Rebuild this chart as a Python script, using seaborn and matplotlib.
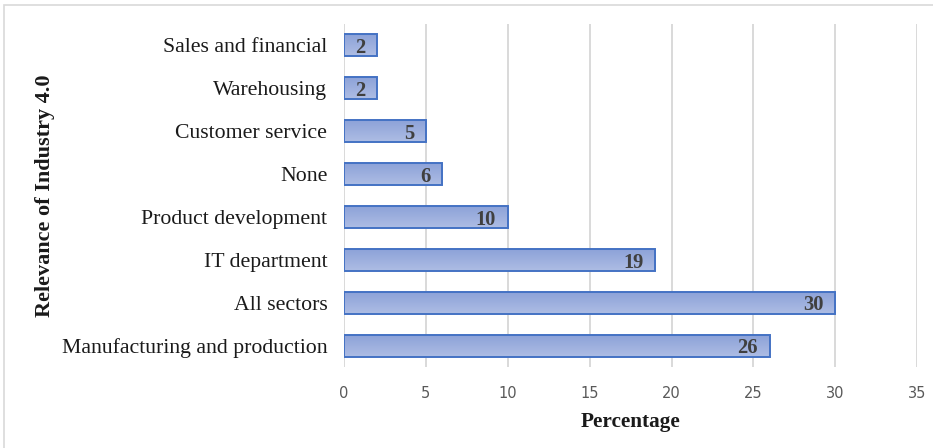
import numpy as np
import pandas as pd
import matplotlib
matplotlib.use("Agg")
import matplotlib.pyplot as plt
from matplotlib.patches import Rectangle
from matplotlib.colors import LinearSegmentedColormap
import seaborn as sns

categories = ["Sales and financial", "Warehousing", "Customer service", "None",
              "Product development", "IT department", "All sectors",
              "Manufacturing and production"]
percentages = [2, 2, 5, 6, 10, 19, 30, 26]
x_ticks = [0, 5, 10, 15, 20, 25, 30, 35]

df = pd.DataFrame({"Relevance": categories, "Percentage": percentages})

sns.set_theme(style="white")
plt.rcParams["font.family"] = ["Liberation Serif", "DejaVu Serif"]

fig = plt.figure(figsize=(9.33, 4.48), dpi=100)
ax = fig.add_axes([0.3687, 0.1797, 0.6143, 0.7678])

sns.barplot(data=df, x="Percentage", y="Relevance", orient="h", ax=ax,
            width=0.53, color="#9DB0DE", edgecolor="#4472C4", linewidth=1.4,
            zorder=3)

# vertical gradient fill inside each bar
grad_cmap = LinearSegmentedColormap.from_list("barfill", ["#AEBDE4", "#8BA1D8"])
grad = np.linspace(0, 1, 64).reshape(-1, 1)
for patch in ax.patches:
    x0, y0 = patch.get_x(), patch.get_y()
    w, h = patch.get_width(), patch.get_height()
    patch.set_facecolor("none")
    im = ax.imshow(grad, cmap=grad_cmap, aspect="auto",
                   extent=[x0, x0 + w, y0, y0 + h], origin="upper", zorder=2)
    im.set_clip_path(patch)

ax.set_xlim(0, 35)
ax.set_ylim(len(categories) - 0.5, -0.5)
ax.set_xticks(x_ticks)
ax.set_xticklabels([str(t) for t in x_ticks], family="DejaVu Sans",
                   fontsize=10.5, color="#595959")
ax.tick_params(axis="x", length=0, pad=13)
ax.tick_params(axis="y", length=0, pad=12, labelsize=15.7, labelcolor="#1A1A1A")

ax.grid(axis="x", color="#D9D9D9", linewidth=1.4, zorder=0)
ax.grid(axis="y", visible=False)
for side in ["top", "right", "bottom", "left"]:
    ax.spines[side].set_visible(False)

for i, v in enumerate(percentages):
    ax.text(v - 0.72, i, str(v), ha="right", va="center_baseline",
            fontsize=14.8, fontweight="bold", color="#404040", zorder=4)

ax.set_xlabel("Percentage", fontsize=15.3, fontweight="bold", color="#1A1A1A",
              labelpad=8)
ax.set_ylabel("Relevance of Industry 4.0", fontsize=16, fontweight="bold",
              color="#1A1A1A")
ax.yaxis.set_label_coords(-0.505, 0.5)

# light chart-area frame
fig.patches.append(Rectangle((4 / 933, -0.1), 1.2, 1 - 5 / 448 + 0.1,
                             transform=fig.transFigure, fill=False,
                             edgecolor="#D9D9D9", linewidth=1.2))

fig.savefig("out.png", dpi=100, facecolor="white")
